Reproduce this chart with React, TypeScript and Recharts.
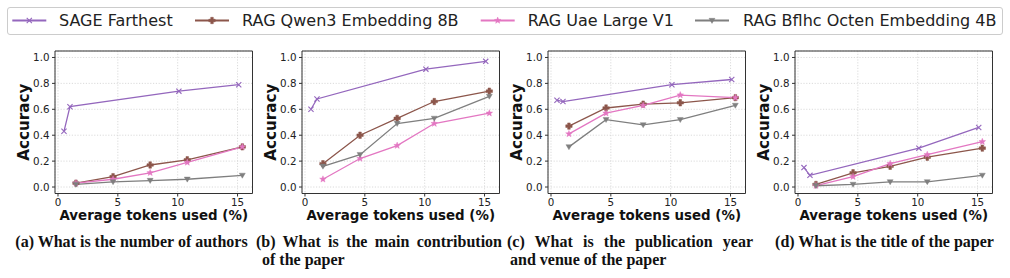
import React from 'react';
import { LineChart, Line, XAxis, YAxis, CartesianGrid, ReferenceArea, Label } from 'recharts';

// ---------- data ----------
const xSage = [0.5, 1.0, 10.1, 15.1];
const xRag = [1.5, 4.6, 7.7, 10.8, 15.4];

const sageA = [0.43, 0.62, 0.74, 0.79];
const qwenA = [0.03, 0.08, 0.17, 0.21, 0.31];
const uaeA = [0.03, 0.06, 0.11, 0.19, 0.31];
const bflhcA = [0.02, 0.04, 0.05, 0.06, 0.09];

const sageB = [0.6, 0.68, 0.91, 0.97];
const qwenB = [0.18, 0.4, 0.53, 0.66, 0.74];
const uaeB = [0.06, 0.22, 0.32, 0.49, 0.57];
const bflhcB = [0.16, 0.25, 0.49, 0.53, 0.7];

const sageC = [0.67, 0.66, 0.79, 0.83];
const qwenC = [0.47, 0.61, 0.64, 0.65, 0.69];
const uaeC = [0.41, 0.57, 0.63, 0.71, 0.69];
const bflhcC = [0.31, 0.52, 0.48, 0.52, 0.63];

const sageD = [0.15, 0.09, 0.3, 0.46];
const qwenD = [0.02, 0.11, 0.16, 0.23, 0.3];
const uaeD = [0.01, 0.08, 0.18, 0.25, 0.35];
const bflhcD = [0.01, 0.02, 0.04, 0.04, 0.09];

const xTicks = [0, 5, 10, 15];
const yTicks = [0, 0.2, 0.4, 0.6, 0.8, 1.0];
const seriesNames = ['SAGE Farthest', 'RAG Qwen3 Embedding 8B', 'RAG Uae Large V1', 'RAG Bflhc Octen Embedding 4B'];
const seriesColors = ['#9467bd', '#8c564b', '#e377c2', '#7f7f7f'];
const seriesMarkers = ['x', 'P', '*', 'v'];
const xLabel = 'Average tokens used (%)';
const yLabel = 'Accuracy';

const panels = [
  { sage: sageA, qwen: qwenA, uae: uaeA, bflhc: bflhcA },
  { sage: sageB, qwen: qwenB, uae: uaeB, bflhc: bflhcB },
  { sage: sageC, qwen: qwenC, uae: uaeC, bflhc: bflhcC },
  { sage: sageD, qwen: qwenD, uae: uaeD, bflhc: bflhcD },
];

// ---------- layout ----------
const X_DOMAIN: [number, number] = [-0.25, 16.25];
const Y_DOMAIN: [number, number] = [-0.05, 1.05];
const FRAME_LEFTS = [55, 301.7, 548.3, 795];
const FRAME_W = 197.5;
const FRAME_H = 142.5;
const Y_AXIS_W = 50;
const M_TOP = 5;
const CHART_TOP = 45.5;
const X_AXIS_H = 40;
const FONT = '"DejaVu Sans", sans-serif';
const TEXT = '#222';

const toPoints = (xs: number[], ys: number[]) => xs.map((x, i) => ({ x, y: ys[i] }));

function Marker({ kind, cx, cy, color }: { kind: string; cx: number; cy: number; color: string }) {
  if (cx == null || cy == null || isNaN(cx) || isNaN(cy)) return <g />;
  if (kind === 'x') {
    const s = 2.6;
    return (
      <path
        d={`M${cx - s},${cy - s}L${cx + s},${cy + s}M${cx - s},${cy + s}L${cx + s},${cy - s}`}
        stroke={color}
        strokeWidth={1.1}
        fill="none"
      />
    );
  }
  if (kind === 'P') {
    const s = 3.2;
    const t = 1.3;
    const pts = [
      [cx - t, cy - s], [cx + t, cy - s], [cx + t, cy - t], [cx + s, cy - t], [cx + s, cy + t], [cx + t, cy + t],
      [cx + t, cy + s], [cx - t, cy + s], [cx - t, cy + t], [cx - s, cy + t], [cx - s, cy - t], [cx - t, cy - t],
    ];
    return <polygon points={pts.map((p) => p.join(',')).join(' ')} fill={color} stroke={color} strokeWidth={0.5} />;
  }
  if (kind === '*') {
    const ro = 3.5;
    const ri = 1.5;
    const pts: string[] = [];
    for (let i = 0; i < 10; i++) {
      const r = i % 2 === 0 ? ro : ri;
      const a = -Math.PI / 2 + (i * Math.PI) / 5;
      pts.push(`${cx + r * Math.cos(a)},${cy + r * Math.sin(a)}`);
    }
    return <polygon points={pts.join(' ')} fill={color} stroke={color} strokeWidth={0.4} />;
  }
  // 'v'
  return (
    <polygon
      points={`${cx - 3},${cy - 2.2} ${cx + 3},${cy - 2.2} ${cx},${cy + 2.9}`}
      fill={color}
      stroke={color}
      strokeWidth={0.4}
    />
  );
}

function Panel({ idx }: { idx: number }) {
  const p = panels[idx];
  const seriesData = [
    toPoints(xSage, p.sage),
    toPoints(xRag, p.qwen),
    toPoints(xRag, p.uae),
    toPoints(xRag, p.bflhc),
  ];
  const width = Y_AXIS_W + FRAME_W + 5;
  const height = M_TOP + FRAME_H + X_AXIS_H;
  return (
    <div style={{ position: 'absolute', left: FRAME_LEFTS[idx] - Y_AXIS_W, top: CHART_TOP }}>
      <LineChart width={width} height={height} margin={{ top: M_TOP, right: 5, bottom: 0, left: 0 }}>
        <CartesianGrid stroke="#d2d2d2" strokeDasharray="1.2 1.6" strokeWidth={0.8} />
        <XAxis
          type="number"
          dataKey="x"
          domain={X_DOMAIN}
          ticks={xTicks}
          allowDataOverflow
          height={X_AXIS_H}
          axisLine={false}
          tickLine={{ stroke: '#333' }}
          tickSize={3}
          tickMargin={2}
          tick={{ fontSize: 10.3, fill: TEXT, fontFamily: FONT }}
          interval={0}
        >
          <Label
            content={() => (
              <text
                x={Y_AXIS_W + FRAME_W / 2}
                y={M_TOP + FRAME_H + 26}
                textAnchor="middle"
                fontSize={13.4}
                fontWeight="bold"
                fontFamily={FONT}
                fill="#111"
              >
                {xLabel}
              </text>
            )}
          />
        </XAxis>
        <YAxis
          type="number"
          domain={Y_DOMAIN}
          ticks={yTicks}
          allowDataOverflow
          width={Y_AXIS_W}
          axisLine={false}
          tickLine={{ stroke: '#333' }}
          tickSize={3}
          tickMargin={2.5}
          tickFormatter={(v: number) => v.toFixed(1)}
          tick={{ fontSize: 10.3, fill: TEXT, fontFamily: FONT }}
          interval={0}
        >
          <Label
            content={() => {
              const lx = Y_AXIS_W - 26;
              const ly = M_TOP + FRAME_H / 2;
              return (
                <text
                  x={lx}
                  y={ly}
                  transform={`rotate(-90 ${lx} ${ly})`}
                  textAnchor="middle"
                  fontSize={15.2}
                  fontWeight="bold"
                  fontFamily={FONT}
                  fill="#111"
                >
                  {yLabel}
                </text>
              );
            }}
          />
        </YAxis>
        <ReferenceArea
          x1={X_DOMAIN[0]}
          x2={X_DOMAIN[1]}
          y1={Y_DOMAIN[0]}
          y2={Y_DOMAIN[1]}
          fill="none"
          fillOpacity={0}
          stroke="#333"
          strokeWidth={1}
          ifOverflow="visible"
        />
        {seriesData.map((data, si) => (
          <Line
            key={seriesNames[si]}
            data={data}
            dataKey="y"
            type="linear"
            stroke={seriesColors[si]}
            strokeWidth={1.3}
            isAnimationActive={false}
            activeDot={false}
            dot={(props: any) => (
              <Marker
                key={`m-${si}-${props.index}`}
                kind={seriesMarkers[si]}
                cx={props.cx}
                cy={props.cy}
                color={seriesColors[si]}
              />
            )}
          />
        ))}
      </LineChart>
    </div>
  );
}

const legendLineX = [12.3, 195, 480.7, 695];
const legendTextX = [59, 242, 527.7, 743];

function Legend() {
  return (
    <>
      <div
        style={{
          position: 'absolute',
          left: 7.3,
          top: 6.7,
          width: 995.4,
          height: 28.3,
          border: '1px solid #cccccc',
          borderRadius: 3,
          boxSizing: 'border-box',
        }}
      />
      <svg style={{ position: 'absolute', left: 0, top: 0 }} width={1010} height={40}>
        {seriesNames.map((n, i) => (
          <g key={n}>
            <line
              x1={legendLineX[i]}
              x2={legendLineX[i] + 34}
              y1={20.5}
              y2={20.5}
              stroke={seriesColors[i]}
              strokeWidth={1.8}
            />
            <Marker kind={seriesMarkers[i]} cx={legendLineX[i] + 17} cy={20.5} color={seriesColors[i]} />
            <text x={legendTextX[i]} y={26.2} fontSize={16} fontFamily={FONT} fill={TEXT}>
              {n}
            </text>
          </g>
        ))}
      </svg>
    </>
  );
}

const captionStyle: React.CSSProperties = {
  position: 'absolute',
  fontFamily: '"Liberation Serif", "Times New Roman", serif',
  fontWeight: 'bold',
  fontSize: 16,
  lineHeight: '17px',
  whiteSpace: 'nowrap',
  color: '#111',
};

const captionA = '(a) What is the number of authors';
const captionB1 = '(b) What is the main contribution';
const captionB2 = 'of the paper';
const captionC1 = '(c) What is the publication year';
const captionC2 = 'and venue of the paper';
const captionD = '(d) What is the title of the paper';

function Captions() {
  const t1 = 233;
  const t2 = 251;
  return (
    <>
      <div style={{ ...captionStyle, left: 8, top: t1, width: 247, textAlign: 'center' }}>{captionA}</div>
      <div style={{ ...captionStyle, left: 256, top: t1, width: 246, textAlign: 'justify', textAlignLast: 'justify' }}>
        {captionB1}
      </div>
      <div style={{ ...captionStyle, left: 262, top: t2 }}>{captionB2}</div>
      <div style={{ ...captionStyle, left: 507, top: t1, width: 246, textAlign: 'justify', textAlignLast: 'justify' }}>
        {captionC1}
      </div>
      <div style={{ ...captionStyle, left: 510, top: t2 }}>{captionC2}</div>
      <div style={{ ...captionStyle, left: 762, top: t1, width: 245, textAlign: 'center' }}>{captionD}</div>
    </>
  );
}

export default function App() {
  return (
    <div style={{ position: 'absolute', left: 0, top: 0, width: 1010, height: 278, background: '#fff', overflow: 'hidden' }}>
      <Legend />
      {[0, 1, 2, 3].map((i) => (
        <Panel key={i} idx={i} />
      ))}
      <Captions />
    </div>
  );
}
